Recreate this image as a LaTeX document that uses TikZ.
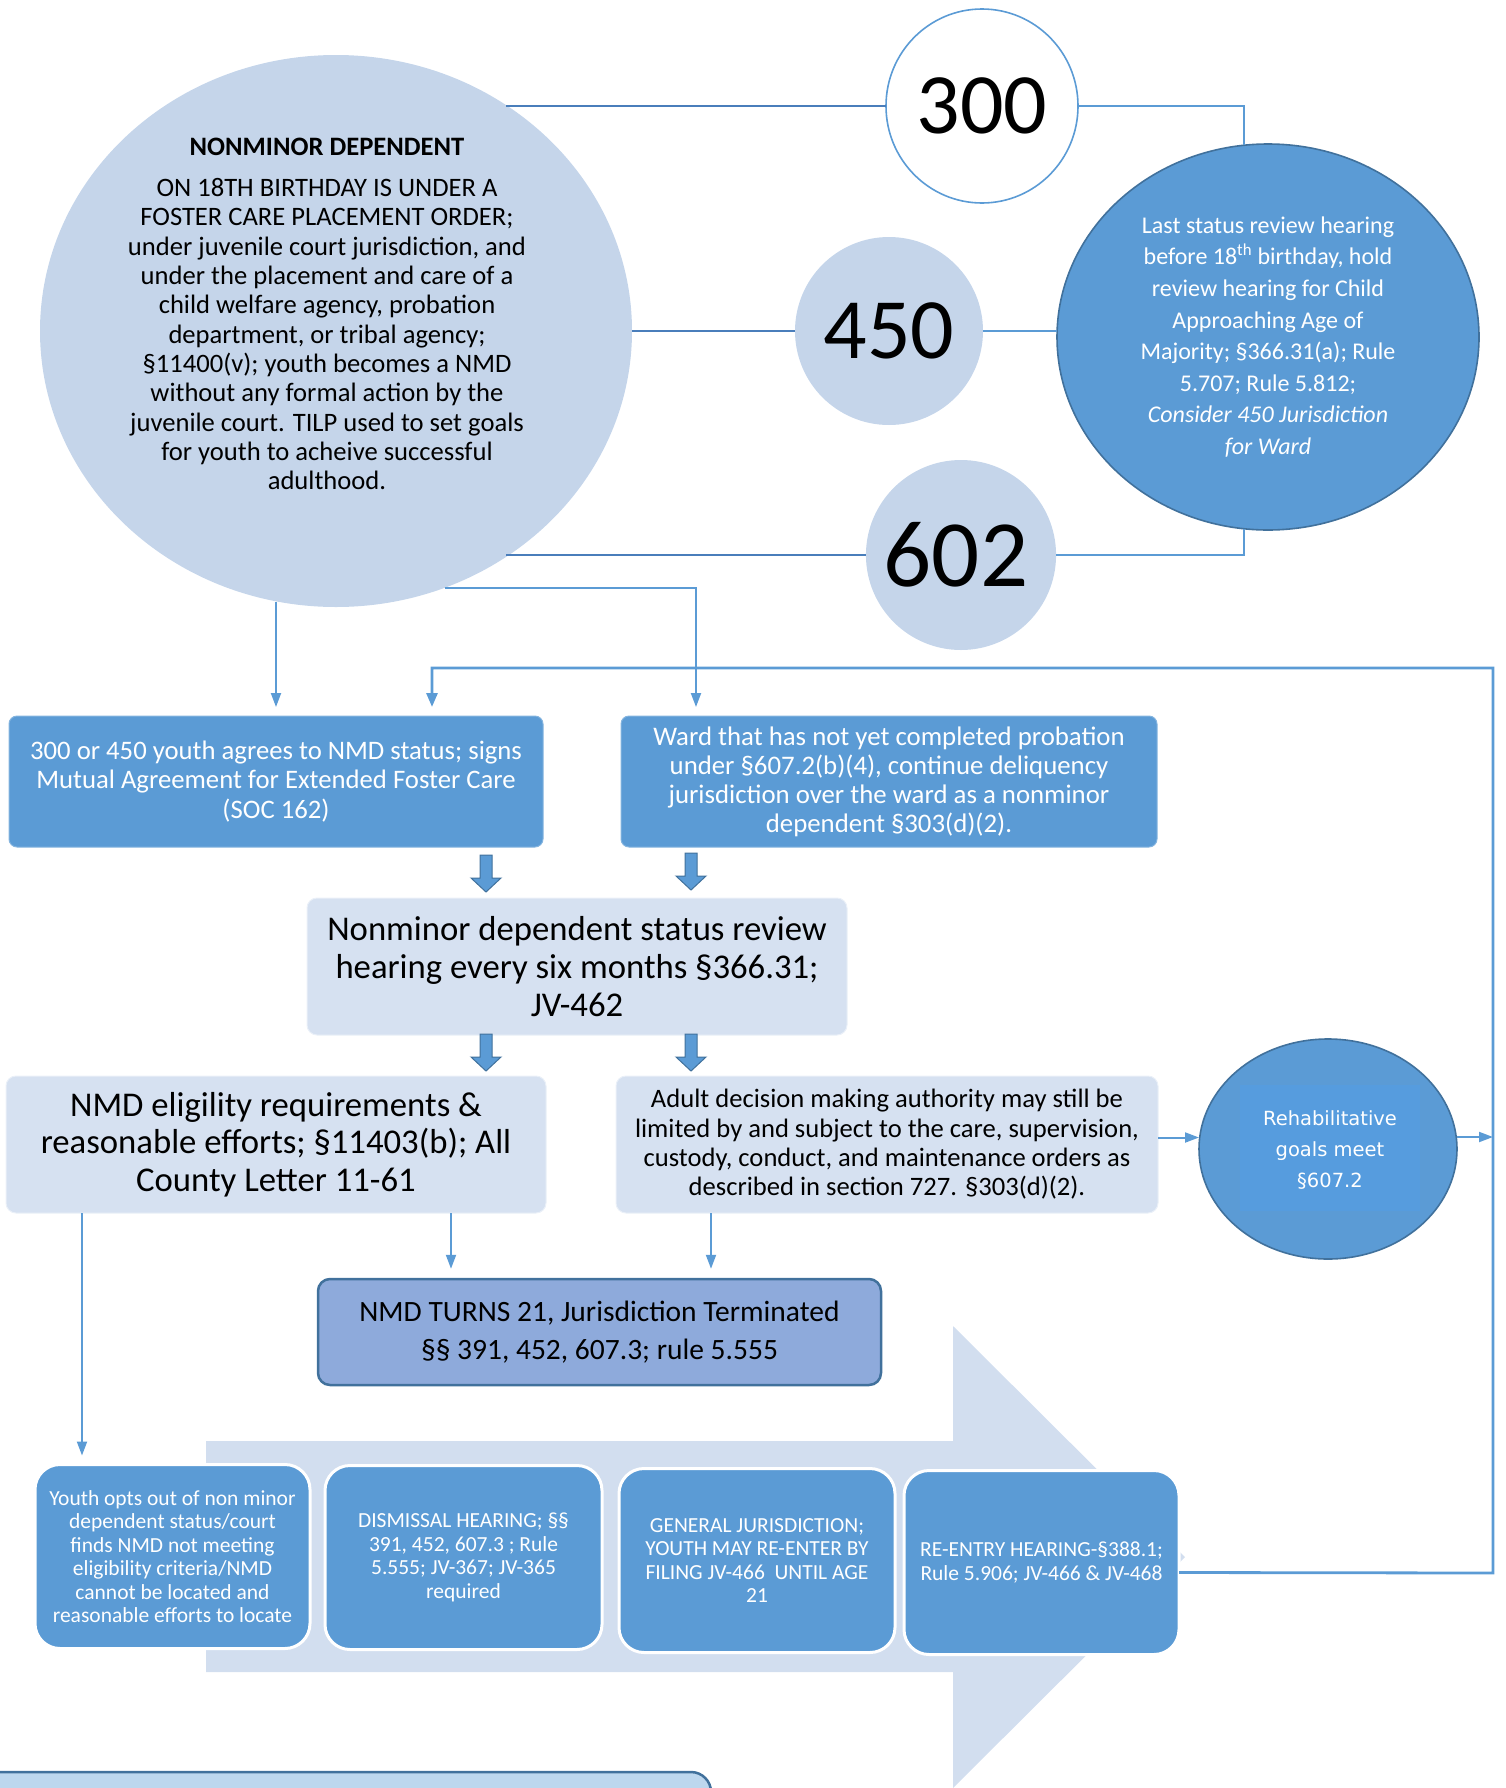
\documentclass[tikz,border=0pt]{standalone}
\usepackage{fontspec}
\setmainfont{Carlito}
\newfontfamily\rehabfont{DejaVu Sans}
\usepackage{tikz}
\usetikzlibrary{shapes.geometric, arrows.meta, positioning, calc}
\definecolor{accentblue}{RGB}{91,155,213}
\definecolor{edgeblue}{RGB}{65,113,156}
\definecolor{linkblue}{RGB}{74,126,187}
\definecolor{paleblue}{RGB}{197,213,234}
\definecolor{boxpale}{RGB}{214,225,241}
\definecolor{arrowpale}{RGB}{210,222,239}
\definecolor{termblue}{RGB}{142,170,219}
\definecolor{footblue}{RGB}{189,215,238}
\definecolor{innerblue}{RGB}{86,156,222}

\begin{document}
\begin{tikzpicture}[x=1pt, y=-1pt,
  link/.style={linkblue, line width=2.4pt},
  joint/.style={accentblue, line width=2pt},
  flow/.style={accentblue, line width=2pt, -{Triangle[length=14pt, width=10pt]}},
  loopline/.style={accentblue, line width=2.8pt, -{Triangle[length=14pt, width=11pt]}},
  gap/.style={shorten >=9pt},
  disc/.style={ellipse, inner sep=0pt, outer sep=0pt},
  bignum/.style={font=\fontsize{86}{90}\selectfont},
  darkbox/.style={rectangle, rounded corners=8pt, fill=accentblue, draw=accentblue!75!white, line width=1pt, text=white, align=center, inner sep=0pt, outer sep=0pt},
  palebox/.style={rectangle, rounded corners=10pt, fill=boxpale, draw=boxpale!50!white, line width=1pt, align=center, inner sep=0pt, outer sep=0pt},
  stepcard/.style={rectangle, rounded corners=25pt, fill=accentblue, draw=white, line width=3pt, text=white, align=center, inner sep=0pt, outer sep=0pt, minimum width=275pt, minimum height=184pt, font=\fontsize{21.5}{23.5}\selectfont},
  blockarrow/.style={fill=accentblue, draw=edgeblue, line width=1pt}
]
  \useasboundingbox (0,0) rectangle (1506,1788);

  % Background process arrow
  \fill[arrowpale] (206,1441) -- (953,1441) -- (953,1326) -- (1185,1557) -- (953,1788) -- (953,1672) -- (206,1672) -- cycle;

  % Nonminor dependent circle
  \node[disc, fill=paleblue, minimum width=592pt, minimum height=552pt] (nmd) at (336,331) {};
  \node[align=center, inner sep=0pt, font=\fontsize{26.6}{29.3}\selectfont] (nmdtext) at (327,314)
    {\textbf{NONMINOR DEPENDENT}\\[11.7pt]
     ON 18TH BIRTHDAY IS UNDER A\\
     FOSTER CARE PLACEMENT ORDER;\\
     under juvenile court jurisdiction, and\\
     under the placement and care of a\\
     child welfare agency, probation\\
     department, or tribal agency;\\
     §11400(v); youth becomes a NMD\\
     without any formal action by the\\
     juvenile court. TILP used to set goals\\
     for youth to acheive successful\\
     adulthood.};

  % Jurisdiction circles
  \node[disc, bignum, fill=white, draw=accentblue, line width=1.6pt, minimum width=192pt, minimum height=194pt] (c300) at (982,106) {300};
  \node[disc, bignum, fill=paleblue, minimum width=188pt, minimum height=188pt] (c450) at (889,331) {450};
  \node[disc, fill=paleblue, minimum width=190pt, minimum height=190pt, font=\fontsize{95}{99}\selectfont] (c602) at (961,555) {\kern-10pt602};

  % Last review hearing
  \node[disc, fill=accentblue, draw=edgeblue, line width=1.6pt, minimum width=422pt, minimum height=386pt, text=white, align=center, font=\fontsize{24}{31.6}\selectfont] (review) at (1268,337)
    {Last status review hearing\\
     before 18\textsuperscript{th} birthday, hold\\
     review hearing for Child\\
     Approaching Age of\\
     Majority; §366.31(a); Rule\\
     5.707; Rule 5.812;\\
     \textit{Consider 450 Jurisdiction}\\
     \textit{for Ward}};

  % Links to the circles
  \draw[link] (c300.west) -- (c300.west -| nmd.53);
  \draw[link] (c450.west) -- (nmd.east);
  \draw[link] (c602.west) -- (c602.west -| nmd.-53);
  \draw[joint] (c300.east) -| (review.97);
  \draw[joint] (c450.east) -- (c450.east -| review.west);
  \draw[joint] (c602.east) -| (review.-97);

  % First row
  \node[darkbox, minimum width=534pt, minimum height=131pt, font=\fontsize{26.7}{29.6}\selectfont] (agree) at (276,781.5)
    {300 or 450 youth agrees to NMD status; signs\\
     Mutual Agreement for Extended Foster Care\\
     (SOC 162)};
  \node[darkbox, minimum width=536pt, minimum height=131pt, font=\fontsize{26.8}{28.9}\selectfont] (ward) at (889,781.5)
    {Ward that has not yet completed probation\\
     under §607.2(b)(4), continue deliquency\\
     jurisdiction over the ward as a nonminor\\
     dependent §303(d)(2).};

  \draw[flow, gap] (agree.north |- nmd.-102.5) -- (agree.north);
  \draw[flow, gap] (nmd.-67.6) -| ([xshift=-193pt]ward.north);

  % Status review hearing
  \node[palebox, minimum width=540pt, minimum height=137pt, font=\fontsize{34.7}{37.6}\selectfont] (sixmonth) at (577,966.5)
    {Nonminor dependent status review\\
     hearing every six months §366.31;\\
     JV-462};

  % Second row
  \node[palebox, minimum width=540pt, minimum height=137pt, font=\fontsize{34.7}{37.6}\selectfont] (elig) at (276,1144.5)
    {NMD eligility requirements \&\\
     reasonable efforts; §11403(b); All\\
     County Letter 11-61};
  \node[palebox, minimum width=542pt, minimum height=137pt, font=\fontsize{26.6}{29.3}\selectfont] (adult) at (887,1144.5)
    {Adult decision making authority may still be\\
     limited by and subject to the care, supervision,\\
     custody, conduct, and maintenance orders as\\
     described in section 727. §303(d)(2).};

  % Block arrows
  \foreach \bx/\by in {486/855, 691/853, 486/1034, 691/1034}
    \draw[blockarrow] (\bx-6,\by) -- (\bx+6,\by) -- (\bx+6,\by+23) -- (\bx+15,\by+23)
      -- (\bx,\by+37) -- (\bx-15,\by+23) -- (\bx-6,\by+23) -- cycle;

  % Rehabilitative goals
  \node[disc, fill=accentblue, draw=edgeblue, line width=1.6pt, minimum width=258pt, minimum height=220pt] (rehab) at (1328,1149) {};
  \fill[innerblue] (1240,1085) rectangle (1420,1211);
  \node[align=center, inner sep=0pt, text=white, font=\rehabfont\fontsize{19.5}{30.8}\selectfont] (rehabtext) at (1330,1150)
    {Rehabilitative\\ goals meet\\ §607.2};

  % Jurisdiction terminated
  \node[rectangle, rounded corners=12pt, fill=termblue, draw=edgeblue, line width=2.5pt, minimum width=563pt, minimum height=106pt, align=center, inner sep=0pt, font=\fontsize{29.5}{37.6}\selectfont] (term) at (599.5,1332)
    {NMD TURNS 21, Jurisdiction Terminated\\
     §§ 391, 452, 607.3; rule 5.555};

  \draw[flow, gap] ([xshift=175pt]elig.south) -- ([xshift=175pt]elig.south |- term.north);
  \draw[flow, gap] ([xshift=-176pt]adult.south) -- ([xshift=-176pt]adult.south |- term.north);

  % Bottom steps
  \node[stepcard] (opts) at (172.5,1556.5)
    {Youth opts out of non minor\\ dependent status/court\\ finds NMD not meeting\\ eligibility criteria/NMD\\ cannot be located and\\ reasonable efforts to locate};
  \node[stepcard, minimum width=277pt] (dismiss) at (463.5,1557.5)
    {DISMISSAL HEARING; §§\\ 391, 452, 607.3 ; Rule\\ 5.555; JV-367; JV-365\\ required};
  \node[stepcard, minimum width=276pt] (general) at (757,1560.5)
    {GENERAL JURISDICTION;\\ YOUTH MAY RE-ENTER BY\\ FILING JV-466\ \ UNTIL AGE\\ 21};
  \node[stepcard] (reentry) at (1041.5,1562.5)
    {RE-ENTRY HEARING-§388.1;\\ Rule 5.906; JV-466 \& JV-468};

  \draw[flow, gap] ([xshift=-194pt]elig.south) -- ([xshift=-194pt]elig.south |- opts.north);

  % Re-entry loop
  \coordinate (loopbr) at (1493,1573);
  \coordinate (looptr) at (1493,668);
  \draw[loopline, gap] ([yshift=-10pt]reentry.east) -- (loopbr) -- (looptr) -| ([xshift=156pt]agree.north);
  \draw[flow] ([yshift=7pt]adult.east) -- ([yshift=7pt]adult.east -| rehab.west);
  \draw[flow] ([yshift=12pt]rehab.east) -- ([yshift=12pt]rehab.east -| looptr);

  % Footer box
  \begin{scope}
    \clip (0,0) rectangle (1506,1788);
    \draw[fill=footblue, draw=edgeblue, line width=2.5pt, rounded corners=20pt] (-20,1772) rectangle (711,1840);
  \end{scope}
\end{tikzpicture}
\end{document}
